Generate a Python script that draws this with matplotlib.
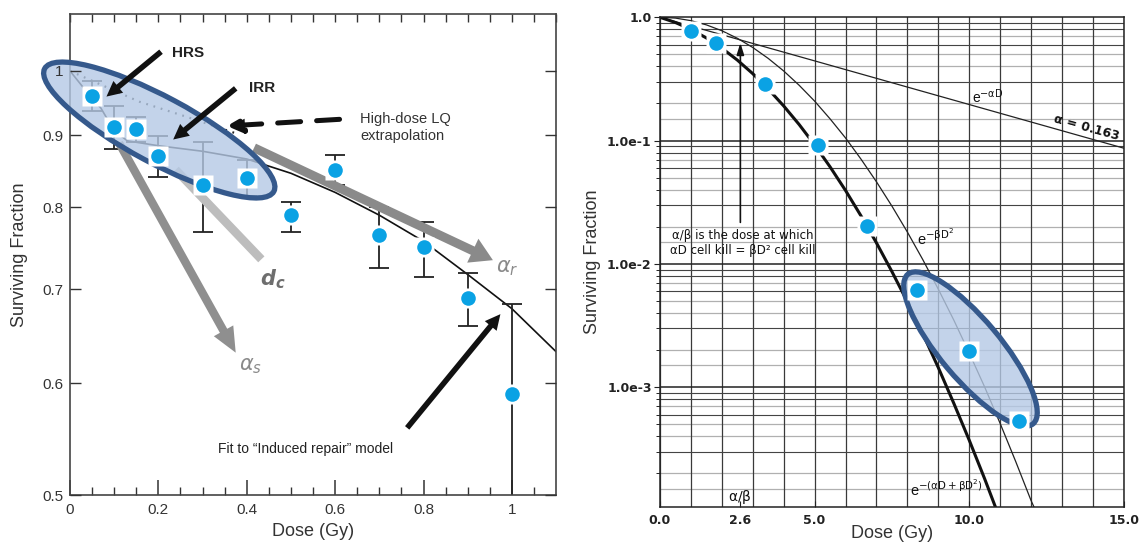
import matplotlib
matplotlib.use("Agg")
import matplotlib.pyplot as plt
import numpy as np
from matplotlib.patches import Ellipse
from matplotlib.transforms import ScaledTranslation

plt.rcParams['font.family'] = ['Liberation Sans', 'DejaVu Sans']
plt.rcParams['mathtext.fontset'] = 'dejavusans'

# ---- left panel: low-dose survival
dose_lo = [0.05, 0.1, 0.15, 0.2, 0.3, 0.4, 0.5, 0.6, 0.7, 0.8, 0.9, 1.0]
sf_lo = [0.96, 0.912, 0.91, 0.87, 0.83, 0.84, 0.79, 0.85, 0.765, 0.75, 0.69, 0.59]
err_bottom = [0.937, 0.88, 0.891, 0.841, 0.769, 0.815, 0.769, 0.83, 0.725, 0.714, 0.659, 0.45]
err_top = [0.983, 0.945, 0.927, 0.899, 0.891, 0.864, 0.807, 0.872, 0.80, 0.781, 0.719, 0.683]

fit_dose = [0, 0.035, 0.07, 0.1, 0.13, 0.2, 0.3, 0.4, 0.5, 0.6, 0.7, 0.8, 0.9, 1.0, 1.1]
fit_sf = [1.0, 0.969, 0.941, 0.907, 0.892, 0.885, 0.877, 0.866, 0.846, 0.82, 0.79, 0.757, 0.717, 0.678, 0.632]

lq_dose = [0, 0.157, 0.263, 0.353, 0.38]
lq_sf = [1.0, 0.951, 0.928, 0.908, 0.902]

# ---- right panel: LQ curves and points
dose_hi = [1.0, 1.8, 3.4, 5.1, 6.7, 8.3, 10.0, 11.6]
sf_hi = [0.78, 0.616, 0.287, 0.0916, 0.0203, 0.00616, 0.00198, 0.000532]

alpha_dose = [0, 5, 10, 15]
alpha_sf = [1.0, 0.443, 0.196, 0.0867]

curve_dose = [0, 0.5, 1, 1.5, 2, 2.5, 3, 3.5, 4, 4.5, 5, 5.5, 6, 6.5, 7, 7.5, 8, 8.5,
              9, 9.5, 10, 10.5, 11, 11.5, 12, 12.2]
beta_sf = [1.0, 0.985, 0.939, 0.868, 0.778, 0.676, 0.569, 0.464, 0.367, 0.281, 0.209,
           0.150, 0.105, 0.0707, 0.0463, 0.0294, 0.0181, 0.0108, 0.00623, 0.0035,
           0.00189, 0.001, 0.000507, 0.00025, 0.00012, 0.000093]
lq_total_sf = [1.0, 0.907, 0.798, 0.680, 0.562, 0.450, 0.349, 0.262, 0.191, 0.135,
               0.0923, 0.0612, 0.0394, 0.0245, 0.0148, 0.00866, 0.00491, 0.0027,
               0.00144, 0.00074, 0.000371, 0.00018, 0.0000845, 0.000038, 0.000017, 0.000012]

ytick_hi = [1.0, 0.1, 0.01, 0.001]
ytick_hi_labels = ['1.0', '1.0e-1', '1.0e-2', '1.0e-3']
xtick_hi = [0, 2.6, 5, 10, 15]
xtick_hi_labels = ['0.0', '2.6', '5.0', '10.0', '15.0']

BLUE = '#0aa2e4'
EDGE = '#35598c'
FILL = '#b5c9e5'
GRAY = '#8a8a8a'

fig = plt.figure(figsize=(11.4, 5.45), dpi=100)
ax1 = fig.add_axes([0.0614, 0.0917, 0.4264, 0.8820])
ax2 = fig.add_axes([0.5789, 0.0700, 0.4070, 0.8983])


def ellipse(ax, x, y, w, h, ang):
    tr = fig.dpi_scale_trans + ScaledTranslation(x, y, ax.transData)
    e = Ellipse((0, 0), w, h, angle=ang, transform=tr, facecolor=FILL, alpha=0.8,
                edgecolor='none', zorder=3, clip_on=False)
    ax.add_patch(e)
    e2 = Ellipse((0, 0), w, h, angle=ang, transform=tr, facecolor='none',
                 edgecolor=EDGE, lw=3.8, zorder=3.1, clip_on=False)
    ax.add_patch(e2)


def arrow(ax, tail, head, color, ms, tw, hw, hl, z):
    ax.annotate('', xy=head, xytext=tail, zorder=z,
                arrowprops=dict(arrowstyle='simple,head_length=%g,head_width=%g,tail_width=%g' % (hl, hw, tw),
                                fc=color, ec='none', mutation_scale=ms, shrinkA=0, shrinkB=0))


def points(ax, x, y):
    ax.plot(x, y, 's', ms=15, mfc='white', mec='none', zorder=5, clip_on=False)
    ax.plot(x, y, 'o', ms=10.5, mfc=BLUE, mec='none', zorder=6, clip_on=False)


# ================= left =================
ax1.set_yscale('log')
ax1.set_xlim(0, 1.1)
ax1.set_ylim(0.5, 1.097)
ax1.set_yticks([0.5, 0.6, 0.7, 0.8, 0.9, 1.0])
ax1.set_yticklabels(['0.5', '0.6', '0.7', '0.8', '0.9', '1'])
ax1.yaxis.set_minor_locator(matplotlib.ticker.NullLocator())
ax1.set_xticks([0, 0.2, 0.4, 0.6, 0.8, 1.0])
ax1.set_xticklabels(['0', '0.2', '0.4', '0.6', '0.8', '1'])
ax1.set_xticks(np.arange(0.05, 1.1, 0.05), minor=True)
ax1.tick_params(axis='x', which='major', direction='in', length=11, width=1.1, labelsize=11,
                colors='#333', pad=6)
ax1.tick_params(axis='x', which='minor', direction='in', length=6, width=1.0, colors='#333')
ax1.tick_params(axis='y', which='major', direction='in', length=8, width=1.0, labelsize=11,
                colors='#333', right=True, pad=5)
ax1.yaxis.set_zorder(3.05)
top = ax1.secondary_xaxis('top')
top.set_xticks(np.arange(0, 1.11, 0.05))
top.set_xticklabels([])
top.tick_params(direction='in', length=6, width=1.0, colors='#333')
top.spines['top'].set_visible(False)
for s in ax1.spines.values():
    s.set_color('#444')
    s.set_linewidth(1.2)
ax1.set_xlabel('Dose (Gy)', fontsize=13, color='#333', labelpad=4)
ax1.set_ylabel('Surviving Fraction', fontsize=13, color='#333', labelpad=10)

# fit curve, LQ extrapolation, error bars
ax1.plot(fit_dose, fit_sf, color='#111', lw=1.2, zorder=2)
ax1.plot(lq_dose, lq_sf, color='#222', lw=1.6, ls=(0, (0.8, 2.6)), zorder=2)
yerr = [np.array(sf_lo) - np.array(err_bottom), np.array(err_top) - np.array(sf_lo)]
ax1.errorbar(dose_lo, sf_lo, yerr=yerr, fmt='none', ecolor='#222', elinewidth=1.3,
             capsize=7, capthick=1.3, zorder=2)

# gray arrows (under the ellipse)
ax1.plot([0.239, 0.433], [0.851, 0.735], color='#bdbdbd', lw=6.2, solid_capstyle='butt', zorder=2.5)
arrow(ax1, (0.4165, 0.882), (0.957, 0.734), GRAY, 10, 0.65, 1.9, 1.6, 2.6)
arrow(ax1, (0.111, 0.889), (0.375, 0.631), '#8f8f8f', 10, 0.6, 1.6, 1.8, 2.6)
ax1.text(0.99, 0.725, r'$\alpha_r$', color='#8a8a8a', fontsize=15, ha='center', va='center')
ax1.text(0.409, 0.617, r'$\alpha_s$', color='#8a8a8a', fontsize=15, ha='center', va='center')
ax1.text(0.458, 0.711, r'$\mathbfit{d}_\mathbfit{c}$', color='#6e6e6e', fontsize=15,
         ha='center', va='center')

ellipse(ax1, 0.202, 0.908, 2.6, 0.66, -28.2)

# black arrows and labels
arrow(ax1, (0.206, 1.032), (0.0825, 0.959), '#111', 10, 0.4, 1.1, 1.1, 4)
arrow(ax1, (0.375, 0.972), (0.2335, 0.894), '#111', 10, 0.4, 1.1, 1.1, 4)
ax1.annotate('', xy=(0.355, 0.914), xytext=(0.61, 0.924), zorder=4,
             arrowprops=dict(arrowstyle='-|>,head_length=0.9,head_width=0.45', color='#111',
                             lw=3.6, ls=(0, (4.6, 3.2)), shrinkA=0, shrinkB=0))
arrow(ax1, (0.763, 0.558), (0.974, 0.672), '#111', 10, 0.4, 1.1, 1.1, 4)
ax1.text(0.231, 1.03, 'HRS', fontsize=11, fontweight='bold', color='#222', va='center', zorder=6)
ax1.text(0.404, 0.972, 'IRR', fontsize=11, fontweight='bold', color='#222', va='center', zorder=6)
ax1.text(0.656, 0.912, 'High-dose LQ\nextrapolation', fontsize=10.5, color='#333', va='center',
         linespacing=1.3, zorder=6)
ax1.text(0.532, 0.539, 'Fit to \u201cInduced repair\u201d model', fontsize=10, color='#222',
         ha='center', va='center', zorder=6)

points(ax1, dose_lo, sf_lo)

# ================= right =================
ax2.set_yscale('log')
ax2.set_xlim(0, 15)
ax2.set_ylim(1.07e-4, 1.0)
for d in range(16):
    ax2.axvline(d, color='#3a3a3a', lw=0.9, zorder=0.5)
for dec in [1e-4, 1e-3, 1e-2, 1e-1]:
    for m in [1.5, 2, 4, 5, 7]:
        ax2.axhline(dec * m, color='#b0b0b0', lw=0.9, zorder=0.4)
    for m in [1, 3, 6, 8, 9]:
        ax2.axhline(dec * m, color='#222' if m == 1 else '#444', lw=1.1 if m == 1 else 0.8,
                    zorder=0.5)
ax2.set_yticks(ytick_hi)
ax2.set_yticklabels(ytick_hi_labels)
ax2.set_xticks(xtick_hi)
ax2.set_xticklabels(xtick_hi_labels)
ax2.tick_params(axis='y', which='major', direction='out', length=4, labelsize=9, colors='#222', pad=2)
ax2.tick_params(axis='y', which='minor', direction='out', length=3, labelleft=False)
ax2.tick_params(axis='x', direction='in', length=4, labelsize=9, colors='#222', pad=5)
for lab in ax2.get_xticklabels() + ax2.get_yticklabels():
    lab.set_family('DejaVu Sans')
    lab.set_fontweight('bold')
for s in ax2.spines.values():
    s.set_color('#222')
    s.set_linewidth(1.1)
ax2.set_xlabel('Dose (Gy)', fontsize=13, color='#333', labelpad=-1)
ax2.set_ylabel('Surviving Fraction', fontsize=13, color='#333', labelpad=4)

ax2.plot(alpha_dose, alpha_sf, color='#222', lw=0.9, zorder=2)
ax2.plot(curve_dose, beta_sf, color='#222', lw=0.9, zorder=2)
ax2.plot(curve_dose, lq_total_sf, color='#111', lw=2.2, zorder=2)

ax2.annotate('', xy=(2.6, 0.62), xytext=(2.6, 0.0217), zorder=4,
             arrowprops=dict(arrowstyle='-|>,head_length=0.7,head_width=0.22', color='#111',
                             lw=1.2, shrinkA=0, shrinkB=0))
ax2.text(2.69, 0.0148, '\u03b1/\u03b2 is the dose at which\n\u03b1D cell kill = \u03b2D\u00b2 cell kill',
         family='DejaVu Sans', fontsize=8.5, color='#111', ha='center', va='center',
         linespacing=1.15, zorder=4)
ax2.text(10.59, 0.228, r'e$^{-\mathrm{\alpha D}}$', fontsize=10, color='#111', ha='center',
         va='center', zorder=4)
ax2.text(13.8, 0.127, '\u03b1 = 0.163', family='DejaVu Sans', fontsize=9, fontweight='bold',
         color='#111', ha='center', va='center', rotation=-15.5, zorder=4)
ax2.text(8.91, 0.0163, r'e$^{-\mathrm{\beta D}^2}$', fontsize=10.5, color='#111', ha='center',
         va='center', zorder=4)
ax2.text(9.26, 1.51e-4, r'e$^{-(\mathrm{\alpha D}+\mathrm{\beta D}^2)}$', fontsize=10.5, color='#111',
         ha='center', va='center', zorder=4)
ax2.text(2.58, 1.29e-4, r'$\mathrm{\alpha/\beta}$', fontsize=10, color='#111', ha='center',
         va='center', zorder=4)

ellipse(ax2, 10.04, 0.00204, 1.95, 0.6, -50)
points(ax2, dose_hi, sf_hi)

fig.savefig('out.png', dpi=100)
